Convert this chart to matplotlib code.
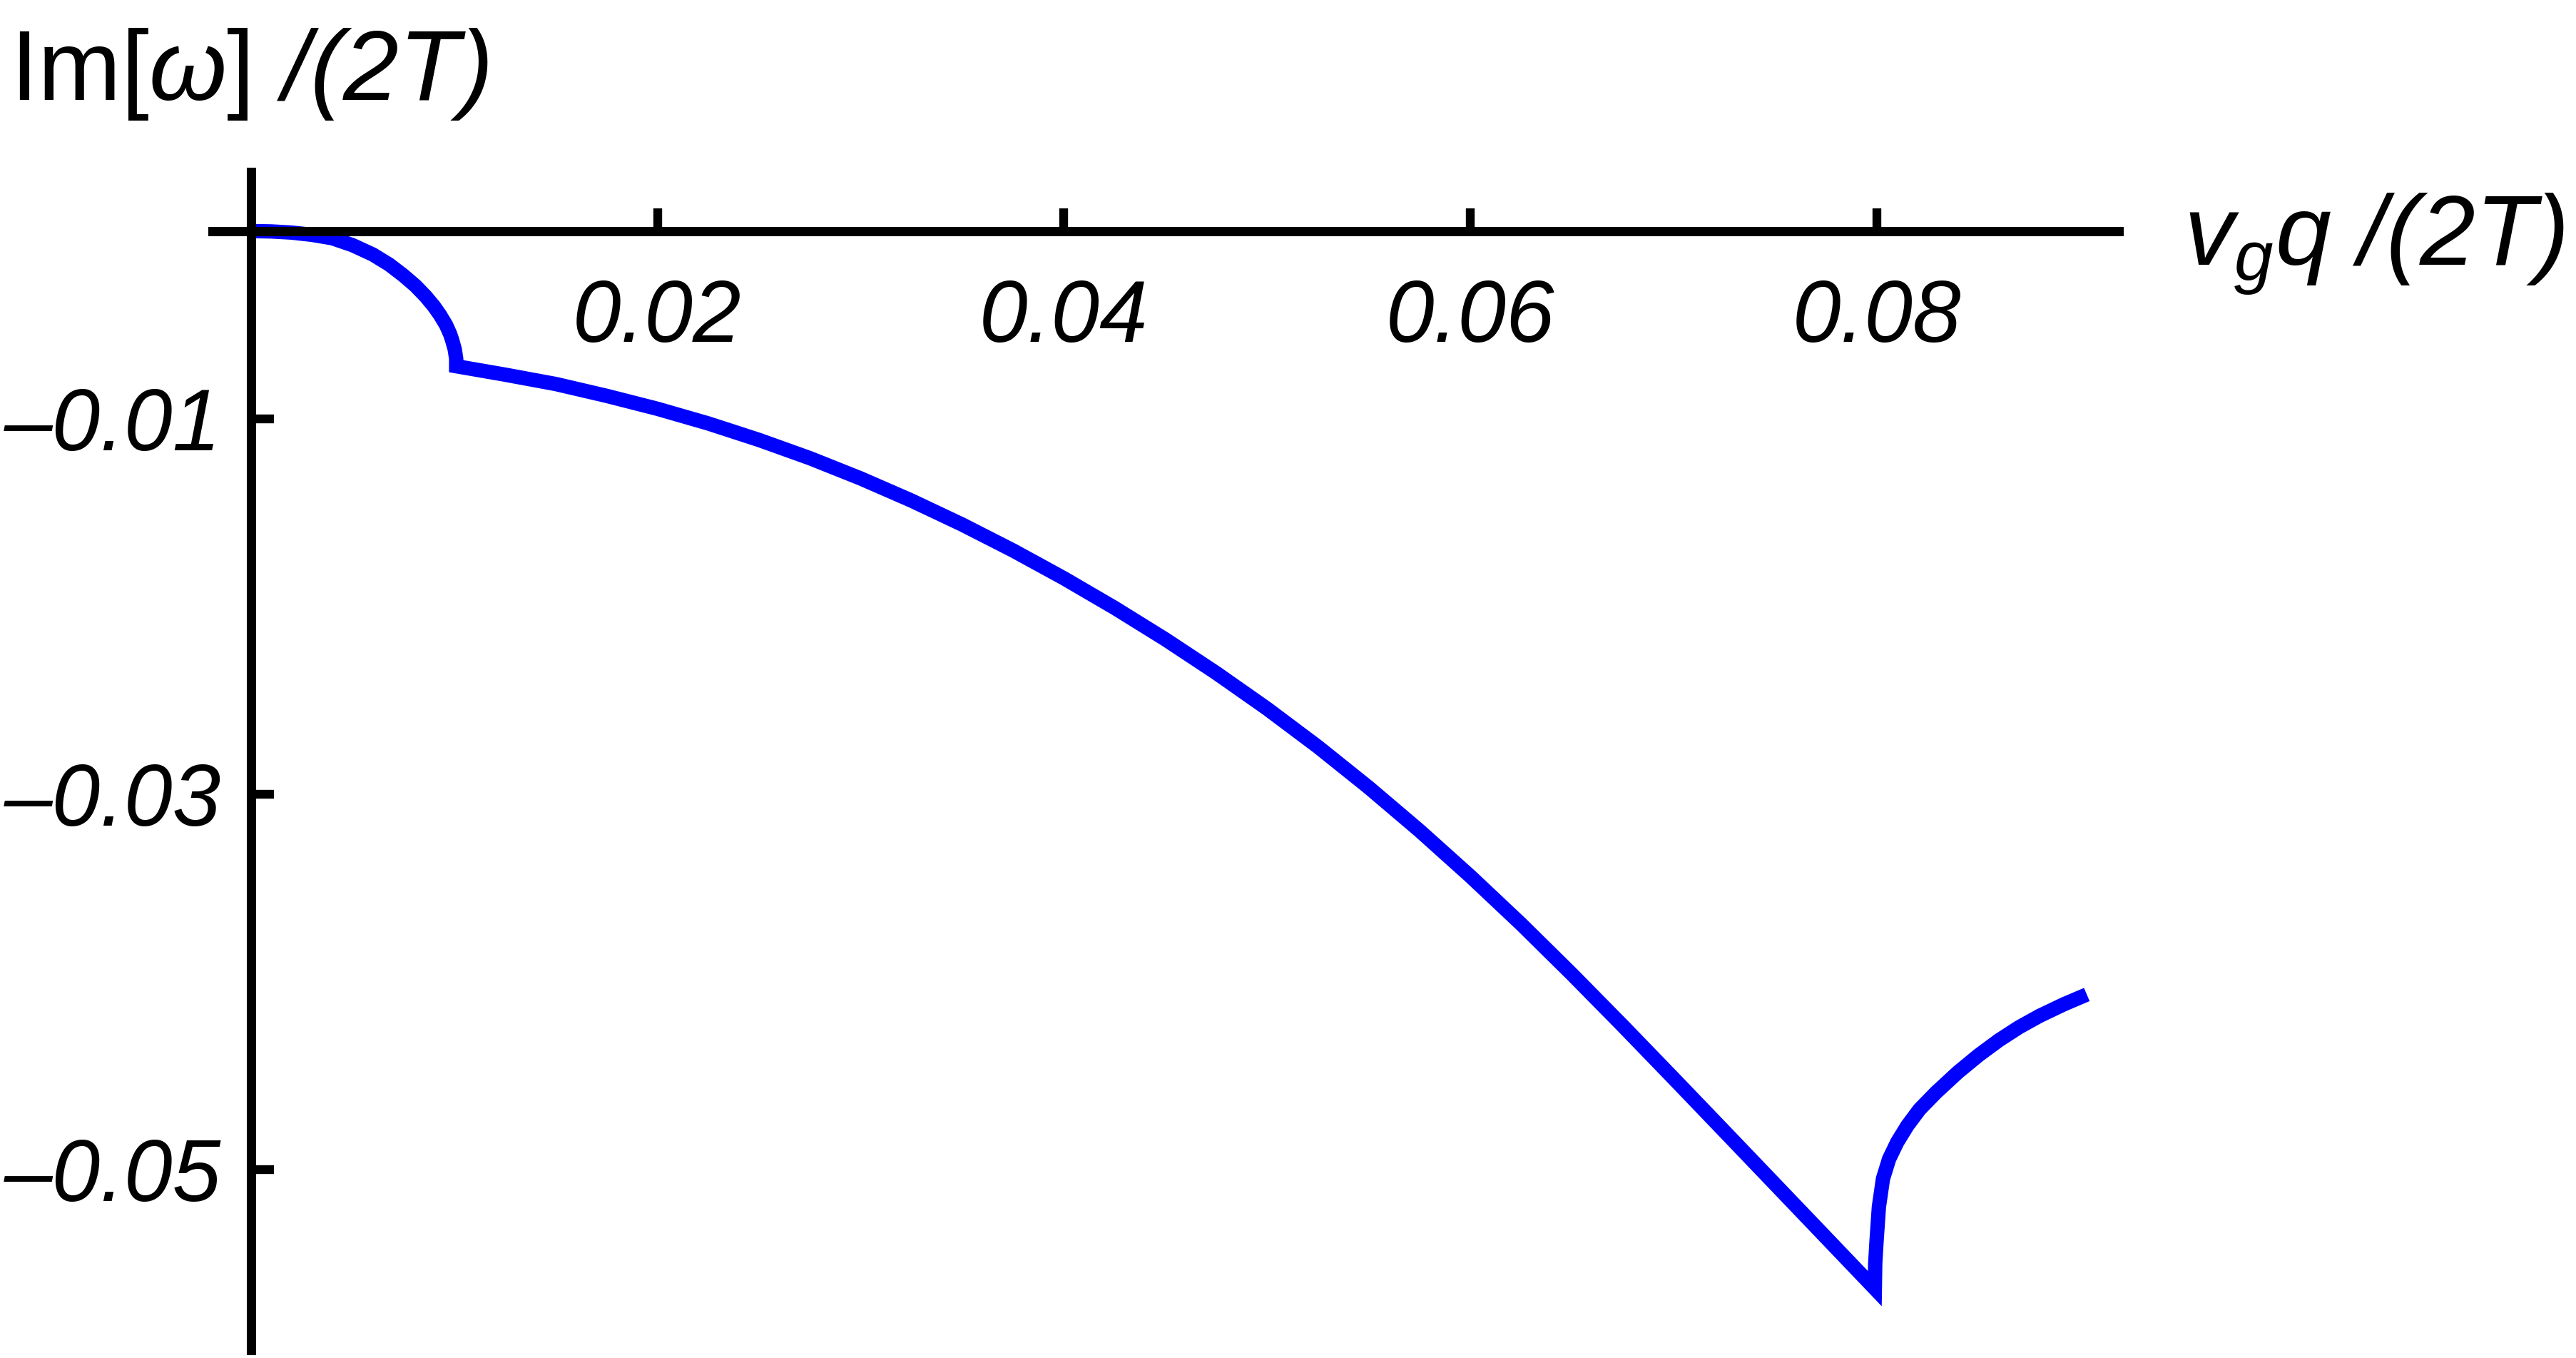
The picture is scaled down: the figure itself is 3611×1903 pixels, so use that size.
import matplotlib
matplotlib.use("Agg")
import matplotlib.pyplot as plt

# ---- data ----
seg1_x = [0.0, 0.0010, 0.0020, 0.0030, 0.0040, 0.0050, 0.0060, 0.0068, 0.0075,
          0.0081, 0.0086, 0.0090, 0.0093, 0.0096, 0.0098, 0.0099, 0.01003,
          0.01010, 0.01010]
seg1_y = [0.0, -0.00002, -0.00008, -0.00020, -0.00038, -0.00075, -0.00125,
          -0.00178, -0.00236, -0.00292, -0.00348, -0.00400, -0.00446, -0.00500,
          -0.00548, -0.00580, -0.00630, -0.00680, -0.00720]

seg2_x = [0.0101, 0.0125, 0.0150, 0.0175, 0.0200, 0.0225, 0.0250, 0.0275, 0.0300,
          0.0325, 0.0350, 0.0375, 0.0400, 0.0425, 0.0450, 0.0475, 0.0500, 0.0525,
          0.0550, 0.0575, 0.0600, 0.0625, 0.0650, 0.0675, 0.0700, 0.0725, 0.0750,
          0.0775, 0.0799]
seg2_y = [-0.00720, -0.00765, -0.00815, -0.00878, -0.00947, -0.01025, -0.01113,
          -0.01210, -0.01318, -0.01436, -0.01564, -0.01702, -0.01850, -0.02008,
          -0.02176, -0.02355, -0.02545, -0.02748, -0.02965, -0.03195, -0.03438,
          -0.03693, -0.03960, -0.04235, -0.04515, -0.04797, -0.05080, -0.05363,
          -0.05635]

seg3_x = [0.0799, 0.07992, 0.07998, 0.08010, 0.08030, 0.08060, 0.08100, 0.08150,
          0.08210, 0.08291, 0.08399, 0.08500, 0.08600, 0.08700, 0.08800, 0.08920,
          0.09033]
seg3_y = [-0.05635, -0.05500, -0.05390, -0.05200, -0.05050, -0.04945, -0.04855,
          -0.04767, -0.04680, -0.04590, -0.04482, -0.04392, -0.04312, -0.04242,
          -0.04182, -0.04120, -0.04068]

xticks = [0.02, 0.04, 0.06, 0.08]
xtick_labels = ["0.02", "0.04", "0.06", "0.08"]
yticks = [-0.01, -0.03, -0.05]
ytick_labels = ["\u20130.01", "\u20130.03", "\u20130.05"]

xlabel = r"$v_g q\ /(2T)$"
ylabel = r"$\mathsf{Im[}\omega\mathsf{]}\ /(2T)$"

# ---- style ----
plt.rcParams['mathtext.fontset'] = 'custom'
plt.rcParams['mathtext.rm'] = 'Liberation Sans:italic'
plt.rcParams['mathtext.it'] = 'Liberation Sans:italic'
plt.rcParams['mathtext.sf'] = 'Liberation Sans'
plt.rcParams['font.family'] = ['Liberation Sans', 'DejaVu Sans']

W, H = 3612, 1903
fig = plt.figure(figsize=(W / 100, H / 100), dpi=100)
ax = fig.add_axes([298.3 / W, 1 - 1892.3 / H, (2970 - 298.3) / W, (1892.3 - 241) / H])

x = seg1_x + seg2_x[1:] + seg3_x[1:]
y = seg1_y + seg2_y[1:] + seg3_y[1:]
ax.plot(x, y, color=(0, 0, 1), lw=14.5, solid_joinstyle='miter',
        solid_capstyle='butt', zorder=2)

ax.set_xlim(-0.001874, 0.09190)
ax.set_ylim(-0.05964, 0.003148)

for s in ['top', 'right']:
    ax.spines[s].set_visible(False)
ax.spines['left'].set_position(('data', 0))
ax.spines['bottom'].set_position(('data', 0))
for s in ['left', 'bottom']:
    ax.spines[s].set_linewidth(9.4)
    ax.spines[s].set_zorder(3)

ax.set_xticks(xticks)
ax.set_xticklabels(xtick_labels)
ax.set_yticks(yticks)
ax.set_yticklabels(ytick_labels)
ax.tick_params(axis='both', direction='in', length=23, width=8.9, labelsize=87.5)
ax.tick_params(axis='x', pad=48)
ax.tick_params(axis='y', pad=30)
for lab in ax.get_xticklabels() + ax.get_yticklabels():
    lab.set_fontstyle('italic')
ax.patch.set_visible(False)

fig.text(13.8 / W, 1 - 140 / H, ylabel, fontsize=100.8, ha='left', va='baseline')
fig.text(3061 / W, 1 - 371 / H, xlabel, fontsize=100.8, ha='left', va='baseline')

fig.savefig("out.png", dpi=100, facecolor='white')
